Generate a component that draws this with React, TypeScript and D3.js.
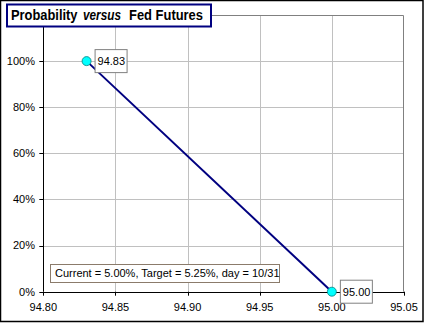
import React from "react";
import * as d3 from "d3";

const xValues = [94.83, 95.0];
const yValues = [1.0, 0.0];
const pointLabels = ["94.83", "95.00"];
const xTicks = [94.8, 94.85, 94.9, 94.95, 95.0, 95.05];
const yTicks = [0, 0.2, 0.4, 0.6, 0.8, 1.0];
const annotation = "Current = 5.00%, Target = 5.25%, day = 10/31";
const titleParts = ["Probability", "versus", "Fed Futures"];

const W = 424;
const H = 323;
const L = 43.3, R = 404, T = 15, B = 291.7;
const FONT = "'Liberation Sans', Arial, sans-serif";

export default function App() {
  const x = d3.scaleLinear().domain([94.8, 95.05]).range([L, R]);
  const y = d3.scaleLinear().domain([0, 1.2]).range([B, T]);
  const line = d3.line<number>().x((_, i) => x(xValues[i])).y((d) => y(d));
  const titleLayout = [
    { x: 11, len: 66.5, italic: false },
    { x: 83, len: 38, italic: true },
    { x: 129, len: 74, italic: false },
  ];
  return (
    <svg width={W} height={H} style={{ position: "absolute", left: 0, top: 0, background: "#fff" }} fontFamily={FONT}>
      <rect x={0.5} y={0.5} width={W - 1.5} height={H - 2} fill="#fff" stroke="#000" strokeWidth={1.5} />
      {/* grid */}
      {xTicks.slice(1, -1).map((t) => (
        <line key={"gx" + t} x1={Math.round(x(t)) + 0.5} x2={Math.round(x(t)) + 0.5} y1={T} y2={B} stroke="#c0c0c0" />
      ))}
      {yTicks.slice(1).map((t) => (
        <line key={"gy" + t} x1={L} x2={R} y1={Math.round(y(t)) + 0.5} y2={Math.round(y(t)) + 0.5} stroke="#c0c0c0" />
      ))}
      <path d={`M${L},${T + 0.5}H${R - 0.5}V${B}`} fill="none" stroke="#808080" />
      {/* axes */}
      <line x1={Math.round(L) + 0.5} x2={Math.round(L) + 0.5} y1={T} y2={B} stroke="#000" />
      <line x1={L} x2={R} y1={Math.round(B) + 0.5} y2={Math.round(B) + 0.5} stroke="#000" />
      {yTicks.map((t) => (
        <g key={"yt" + t}>
          <line x1={L - 4} x2={L} y1={Math.round(y(t)) + 0.5} y2={Math.round(y(t)) + 0.5} stroke="#000" />
          <text x={35} y={y(t)} dy="0.35em" textAnchor="end" fontSize={11} fill="#000">
            {d3.format(".0%")(t)}
          </text>
        </g>
      ))}
      {xTicks.map((t) => (
        <g key={"xt" + t}>
          <line x1={Math.round(x(t)) + 0.5} x2={Math.round(x(t)) + 0.5} y1={B} y2={B + 4} stroke="#000" />
          <text x={x(t)} y={307} dy="0.35em" textAnchor="middle" fontSize={11} fill="#000">
            {t.toFixed(2)}
          </text>
        </g>
      ))}
      {/* annotation */}
      <rect x={50.5} y={264.5} width={229} height={18} fill="#fff" stroke="#8b7b6b" />
      <text x={55} y={273.5} dy="0.35em" fontSize={11} fill="#000">{annotation}</text>
      {/* series */}
      <path d={line(yValues) || ""} fill="none" stroke="#000080" strokeWidth={2} />
      {yValues.map((v, i) => (
        <circle key={"pt" + i} cx={x(xValues[i])} cy={y(v)} r={4.5} fill="#00ffff" stroke="#008080" strokeWidth={0.8} />
      ))}
      {yValues.map((v, i) => (
        <g key={"lb" + i}>
          <rect x={x(xValues[i]) + 8.5} y={y(v) - 11.5} width={32} height={23} fill="#fff" stroke="#808080" />
          <text x={x(xValues[i]) + 11} y={y(v)} dy="0.35em" fontSize={11} fill="#000">{pointLabels[i]}</text>
        </g>
      ))}
      {/* title */}
      <rect x={7} y={4.5} width={204} height={22} fill="#fff" stroke="#000080" strokeWidth={2} />
      {titleParts.map((s, i) => (
        <text
          key={"tt" + i}
          x={titleLayout[i].x}
          y={20}
          fontSize={14.5}
          fontWeight="bold"
          fontStyle={titleLayout[i].italic ? "italic" : "normal"}
          fill="#000"
          textLength={titleLayout[i].len}
          lengthAdjust="spacingAndGlyphs"
        >
          {s}
        </text>
      ))}
    </svg>
  );
}
